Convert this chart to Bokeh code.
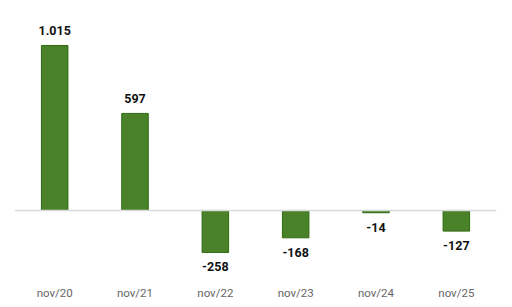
from bokeh.plotting import figure
from bokeh.models import ColumnDataSource, Span, Range1d, FactorRange
from bokeh.core.properties import value
from bokeh.embed import file_html
from bokeh.resources import INLINE

categories = ["nov/20", "nov/21", "nov/22", "nov/23", "nov/24", "nov/25"]
values = [1015, 597, -258, -168, -14, -127]

def fmt(v):
    s = f"{abs(v):,}".replace(",", ".")
    return ("-" if v < 0 else "") + s

labels = [fmt(v) for v in values]
pos = [v >= 0 for v in values]

src_pos = ColumnDataSource(dict(x=[c for c, p in zip(categories, pos) if p],
                                y=[v for v, p in zip(values, pos) if p],
                                t=[l for l, p in zip(labels, pos) if p]))
src_neg = ColumnDataSource(dict(x=[c for c, p in zip(categories, pos) if not p],
                                y=[v for v, p in zip(values, pos) if not p],
                                t=[l for l, p in zip(labels, pos) if not p]))
src = ColumnDataSource(dict(x=categories, top=values))

p = figure(width=512, height=307, x_range=FactorRange(*categories, range_padding=0),
           y_range=Range1d(-443, 1230), output_backend="svg", toolbar_location=None,
           min_border_left=14, min_border_right=16, min_border_top=10, min_border_bottom=25)

p.vbar(x="x", top="top", bottom=0, width=0.33, source=src,
       fill_color="#4a8229", line_color="#2f6a12", line_width=1)

p.add_layout(Span(location=0, dimension="width", line_color="#d9d9d9", line_width=1.5))

common = dict(text_align="center", text_font=value("Roboto"), text_font_style="bold",
              text_font_size="12.5px", text_color="#111111")
p.text(x="x", y="y", text="t", source=src_pos, text_baseline="bottom", y_offset=-10, **common)
p.text(x="x", y="y", text="t", source=src_neg, text_baseline="top", y_offset=10, **common)

p.yaxis.visible = False
p.xaxis.axis_line_color = None
p.xaxis.major_tick_line_color = None
p.xaxis.minor_tick_line_color = None
p.xaxis.major_tick_out = 0
p.xaxis.major_tick_in = 0
p.xaxis.minor_tick_out = 0
p.xaxis.major_label_text_color = "#666666"
p.xaxis.major_label_text_font = "Roboto"
p.xaxis.major_label_text_font_size = "11.5px"
p.xaxis.major_label_standoff = 3
p.xgrid.visible = False
p.ygrid.visible = False
p.outline_line_color = None

open("out.html", "w").write(file_html(p, INLINE))
